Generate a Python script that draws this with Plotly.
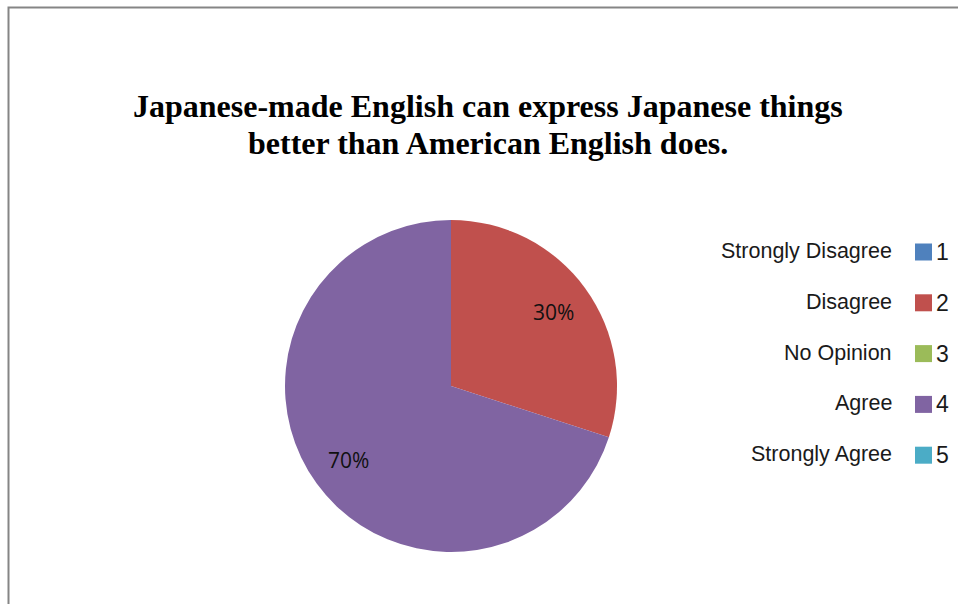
import math
import plotly.graph_objects as go

# ---- data ----
codes = ["1", "2", "3", "4", "5"]
answers = ["Strongly Disagree", "Disagree", "No Opinion", "Agree", "Strongly Agree"]
shares = [0, 30, 0, 70, 0]
colors = ["#4F81BD", "#C0504D", "#9BBB59", "#8064A2", "#4BACC6"]
title_lines = ["Japanese-made English can express Japanese things",
               "better than American English does."]

W, H = 958, 604

def px_x(x):
    return x / W

def px_y(y):
    return 1 - y / H

# pie geometry (pixels)
cx, cy, R = 451, 386, 166
dom_x = [px_x(cx - R), px_x(cx + R)]
dom_y = [px_y(cy + R), px_y(cy - R)]

fig = go.Figure()
fig.add_trace(go.Pie(
    labels=codes,
    values=shares,
    marker=dict(colors=colors, line=dict(width=0)),
    sort=False,
    direction="clockwise",
    rotation=0,
    textinfo="none",
    hoverinfo="label+percent",
    showlegend=False,
    domain=dict(x=dom_x, y=dom_y),
))

annotations = []
# title (two centred lines)
for i, line in enumerate(title_lines):
    annotations.append(dict(
        x=px_x(488), y=px_y(106.5 + i * 36.5), xref="paper", yref="paper",
        text="<b>" + line + "</b>", showarrow=False,
        xanchor="center", yanchor="middle",
        font=dict(family="Liberation Serif", size=32, color="black"),
    ))

# percentage labels derived from the values
total = sum(shares)
cum = 0
for v in shares:
    if v > 0:
        mid = (cum + v / 2) / total * 2 * math.pi
        rr = 0.76 * R
        lx = cx + rr * math.sin(mid)
        ly = cy - rr * math.cos(mid)
        annotations.append(dict(
            x=px_x(lx), y=px_y(ly), xref="paper", yref="paper",
            text=f"{round(v / total * 100)}%", showarrow=False,
            xanchor="center", yanchor="middle",
            font=dict(family="Open Sans", size=21, color="#111111"),
        ))
    cum += v

# manual legend: label text, colour square, code number
shapes = []
row0, step = 252, 50.8
sq = 17
sq_x0 = 915
for i, (c, a, col) in enumerate(zip(codes, answers, colors)):
    yc = row0 + i * step
    shapes.append(dict(
        type="rect", xref="paper", yref="paper",
        x0=px_x(sq_x0), x1=px_x(sq_x0 + sq),
        y0=px_y(yc + sq / 2), y1=px_y(yc - sq / 2),
        fillcolor=col, line=dict(width=0),
    ))
    annotations.append(dict(
        x=px_x(sq_x0 + sq + 2), y=px_y(yc), xref="paper", yref="paper",
        text=c, showarrow=False, xanchor="left", yanchor="middle",
        font=dict(family="Liberation Sans", size=23, color="#1a1a1a"),
    ))
    annotations.append(dict(
        x=px_x(894), y=px_y(yc - 1), xref="paper", yref="paper",
        text=a, showarrow=False, xanchor="right", yanchor="middle",
        font=dict(family="Liberation Sans", size=21.5, color="#1a1a1a"),
    ))

# frame lines (left and top)
shapes.append(dict(
    type="path", xref="paper", yref="paper",
    path=f"M {px_x(8.5)} {px_y(H + 5)} L {px_x(8.5)} {px_y(7.5)} L {px_x(W + 5)} {px_y(7.5)}",
    line=dict(color="#858585", width=2),
))

fig.update_layout(
    width=W, height=H,
    margin=dict(l=0, r=0, t=0, b=0),
    paper_bgcolor="white",
    plot_bgcolor="white",
    annotations=annotations,
    shapes=shapes,
)

fig.write_html("out.html")
